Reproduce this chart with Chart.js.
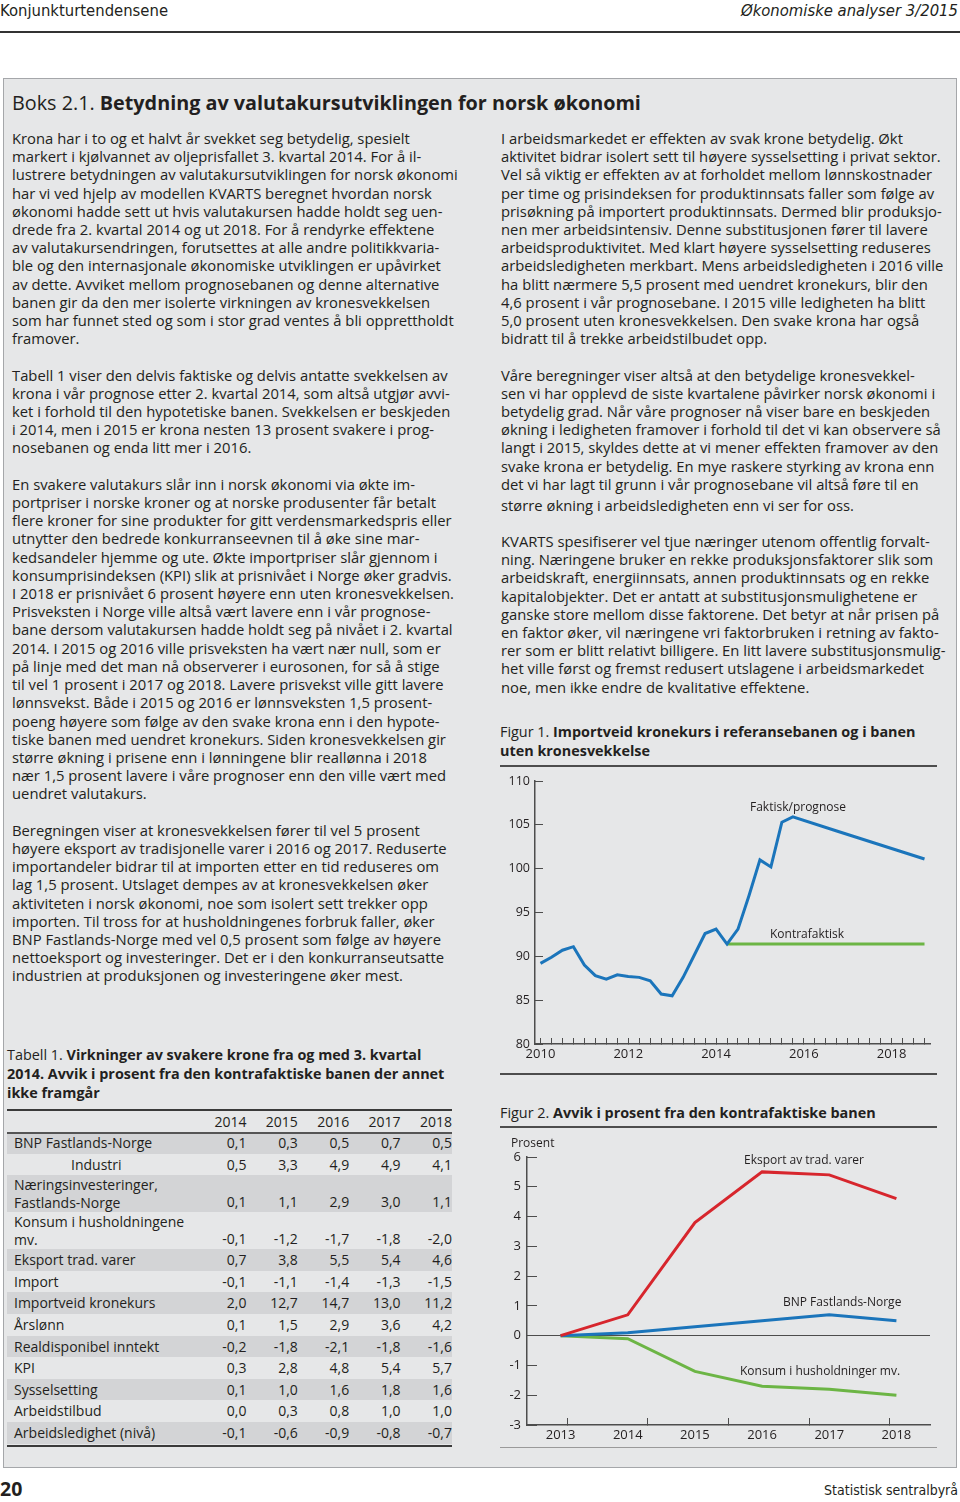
<!DOCTYPE html>
<html lang="no">
<head>
<meta charset="utf-8">
<title>Boks 2.1 Betydning av valutakursutviklingen for norsk økonomi</title>
<script src="https://cdn.jsdelivr.net/npm/chart.js@4.4.1/dist/chart.umd.min.js"></script>
<style>
  html, body { margin: 0; padding: 0; }
  body {
    width: 960px; height: 1502px; position: relative; overflow: hidden;
    background: #fff; color: #231f20; font-family: "Open Sans", "Noto Sans", sans-serif;
  }
  .abs { position: absolute; }
  .txt { font-size: 14.8px; line-height: 18.2px; white-space: nowrap; }
  .cond { font-family: "Liberation Sans Narrow", "DejaVu Sans Condensed", sans-serif; }
  .figtitle { font-size: 14.4px; line-height: 18.5px; white-space: nowrap; }
  .figtitle b { font-weight: 700; }
  .rule { position: absolute; background: #4d4d4d; }
  .lbl { position: absolute; font-size: 12px; line-height: 16px; white-space: nowrap; }
  table.t1 { position: absolute; left: 7px; top: 1111px; width: 445px; border-collapse: collapse;
    font-size: 14px; table-layout: fixed; }
  table.t1 td { padding: 0; white-space: nowrap; line-height: 17.5px; }
  table.t1 td.n { text-align: right; vertical-align: bottom; padding-bottom: 2px; }
  table.t1 td.l { padding-left: 7px; }
  table.t1 tr.s td { background: #d3d4d6; }
  table.t1 tr { height: 21.6px; }
  table.t1 tr.two { height: 37px; }
  table.t1 tr.hd { height: 21px; }
  table.t1 tr.hd td { vertical-align: middle; padding-bottom: 0; }
</style>
</head>
<body>

<!-- header -->
<div class="abs cond" style="left:0; top:1px; font-size:16.5px; line-height:20px;">Konjunkturtendensene</div>
<div class="abs cond" style="right:2px; top:1px; font-size:16.5px; line-height:20px; font-style:italic;">Økonomiske analyser 3/2015</div>
<div class="rule" style="left:0; top:31px; width:960px; height:2px; background:#333;"></div>

<!-- box -->
<div class="abs" style="left:3px; top:78px; width:952px; height:1388px; background:#e6e7e8; border:1px solid #a5a7aa;"></div>

<div class="abs" style="left:12px; top:90px; font-size:19.8px; line-height:26px; white-space:nowrap;">Boks 2.1.&nbsp;<b>Betydning av valutakursutviklingen for norsk økonomi</b></div>

<!-- left column text -->
<div class="abs txt" style="left:12px; top:129px;">
Krona har i to og et halvt år svekket seg betydelig, spesielt<br>
markert i kjølvannet av oljeprisfallet 3. kvartal 2014. For å il-<br>
lustrere betydningen av valutakursutviklingen for norsk økonomi<br>
har vi ved hjelp av modellen KVARTS beregnet hvordan norsk<br>
økonomi hadde sett ut hvis valutakursen hadde holdt seg uen-<br>
drede fra 2. kvartal 2014 og ut 2018. For å rendyrke effektene<br>
av valutakursendringen, forutsettes at alle andre politikkvaria-<br>
ble og den internasjonale økonomiske utviklingen er upåvirket<br>
av dette. Avviket mellom prognosebanen og denne alternative<br>
banen gir da den mer isolerte virkningen av kronesvekkelsen<br>
som har funnet sted og som i stor grad ventes å bli opprettholdt<br>
framover.<br>
<br>
Tabell 1 viser den delvis faktiske og delvis antatte svekkelsen av<br>
krona i vår prognose etter 2. kvartal 2014, som altså utgjør avvi-<br>
ket i forhold til den hypotetiske banen. Svekkelsen er beskjeden<br>
i 2014, men i 2015 er krona nesten 13 prosent svakere i prog-<br>
nosebanen og enda litt mer i 2016.<br>
<br>
En svakere valutakurs slår inn i norsk økonomi via økte im-<br>
portpriser i norske kroner og at norske produsenter får betalt<br>
flere kroner for sine produkter for gitt verdensmarkedspris eller<br>
utnytter den bedrede konkurranseevnen til å øke sine mar-<br>
kedsandeler hjemme og ute. Økte importpriser slår gjennom i<br>
konsumprisindeksen (KPI) slik at prisnivået i Norge øker gradvis.<br>
I 2018 er prisnivået 6 prosent høyere enn uten kronesvekkelsen.<br>
Prisveksten i Norge ville altså vært lavere enn i vår prognose-<br>
bane dersom valutakursen hadde holdt seg på nivået i 2. kvartal<br>
2014. I 2015 og 2016 ville prisveksten ha vært nær null, som er<br>
på linje med det man nå observerer i eurosonen, for så å stige<br>
til vel 1 prosent i 2017 og 2018. Lavere prisvekst ville gitt lavere<br>
lønnsvekst. Både i 2015 og 2016 er lønnsveksten 1,5 prosent-<br>
poeng høyere som følge av den svake krona enn i den hypote-<br>
tiske banen med uendret kronekurs. Siden kronesvekkelsen gir<br>
større økning i prisene enn i lønningene blir reallønna i 2018<br>
nær 1,5 prosent lavere i våre prognoser enn den ville vært med<br>
uendret valutakurs.<br>
<br>
Beregningen viser at kronesvekkelsen fører til vel 5 prosent<br>
høyere eksport av tradisjonelle varer i 2016 og 2017. Reduserte<br>
importandeler bidrar til at importen etter en tid reduseres om<br>
lag 1,5 prosent. Utslaget dempes av at kronesvekkelsen øker<br>
aktiviteten i norsk økonomi, noe som isolert sett trekker opp<br>
importen. Til tross for at husholdningenes forbruk faller, øker<br>
BNP Fastlands-Norge med vel 0,5 prosent som følge av høyere<br>
nettoeksport og investeringer. Det er i den konkurranseutsatte<br>
industrien at produksjonen og investeringene øker mest.
</div>

<!-- right column text -->
<div class="abs txt" style="left:501px; top:129px;">
I arbeidsmarkedet er effekten av svak krone betydelig. Økt<br>
aktivitet bidrar isolert sett til høyere sysselsetting i privat sektor.<br>
Vel så viktig er effekten av at forholdet mellom lønnskostnader<br>
per time og prisindeksen for produktinnsats faller som følge av<br>
prisøkning på importert produktinnsats. Dermed blir produksjo-<br>
nen mer arbeidsintensiv. Denne substitusjonen fører til lavere<br>
arbeidsproduktivitet. Med klart høyere sysselsetting reduseres<br>
arbeidsledigheten merkbart. Mens arbeidsledigheten i 2016 ville<br>
ha blitt nærmere 5,5 prosent med uendret kronekurs, blir den<br>
4,6 prosent i vår prognosebane. I 2015 ville ledigheten ha blitt<br>
5,0 prosent uten kronesvekkelsen. Den svake krona har også<br>
bidratt til å trekke arbeidstilbudet opp.<br>
<br>
Våre beregninger viser altså at den betydelige kronesvekkel-<br>
sen vi har opplevd de siste kvartalene påvirker norsk økonomi i<br>
betydelig grad. Når våre prognoser nå viser bare en beskjeden<br>
økning i ledigheten framover i forhold til det vi kan observere så<br>
langt i 2015, skyldes dette at vi mener effekten framover av den<br>
svake krona er betydelig. En mye raskere styrking av krona enn<br>
det vi har lagt til grunn i vår prognosebane vil altså føre til en<br>
<span style="position:relative; top:3px;">større økning i arbeidsledigheten enn vi ser for oss.</span>
</div>
<div class="abs txt" style="left:501px; top:532px;">
KVARTS spesifiserer vel tjue næringer utenom offentlig forvalt-<br>
ning. Næringene bruker en rekke produksjonsfaktorer slik som<br>
arbeidskraft, energiinnsats, annen produktinnsats og en rekke<br>
kapitalobjekter. Det er antatt at substitusjonsmulighetene er<br>
ganske store mellom disse faktorene. Det betyr at når prisen på<br>
en faktor øker, vil næringene vri faktorbruken i retning av fakto-<br>
rer som er blitt relativt billigere. En litt lavere substitusjonsmulig-<br>
het ville først og fremst redusert utslagene i arbeidsmarkedet<br>
noe, men ikke endre de kvalitative effektene.
</div>

<!-- Figur 1 -->
<div class="abs figtitle" style="left:500px; top:723px;">Figur 1. <b>Importveid kronekurs i referansebanen og i banen<br>uten kronesvekkelse</b></div>
<div class="rule" style="left:500px; top:765px; width:437px; height:2px;"></div>
<canvas id="fig1" class="abs" style="left:500px; top:770px;" width="440" height="295"></canvas>
<div class="lbl" style="left:750px; top:799px;">Faktisk/prognose</div>
<div class="lbl" style="left:770px; top:926px;">Kontrafaktisk</div>
<div class="rule" style="left:500px; top:1073px; width:437px; height:2px;"></div>

<!-- Figur 2 -->
<div class="abs figtitle" style="left:500px; top:1104px;">Figur 2. <b>Avvik i prosent fra den kontrafaktiske banen</b></div>
<div class="rule" style="left:500px; top:1126px; width:437px; height:2px;"></div>
<canvas id="fig2" class="abs" style="left:500px; top:1135px;" width="440" height="310"></canvas>
<div class="lbl" style="left:511px; top:1135px;">Prosent</div>
<div class="lbl" style="left:744px; top:1152px;">Eksport av trad. varer</div>
<div class="lbl" style="left:783px; top:1294px;">BNP Fastlands-Norge</div>
<div class="lbl" style="left:740px; top:1363px;">Konsum i husholdninger mv.</div>
<div class="rule" style="left:500px; top:1447px; width:437px; height:1px; background:#9a9a9a;"></div>

<!-- Tabell 1 -->
<div class="abs figtitle" style="left:7px; top:1045px; line-height:19px;">Tabell 1. <b>Virkninger av svakere krone fra og med 3. kvartal<br>2014. Avvik i prosent fra den kontrafaktiske banen der annet<br>ikke framgår</b></div>
<div class="rule" style="left:7px; top:1109px; width:445px; height:2px; background:#3a3a3a;"></div>
<table class="t1">
  <colgroup><col style="width:188px"><col style="width:51.4px"><col style="width:51.4px"><col style="width:51.4px"><col style="width:51.4px"><col style="width:51.4px"></colgroup>
  <tr class="hd"><td></td><td class="n">2014</td><td class="n">2015</td><td class="n">2016</td><td class="n">2017</td><td class="n">2018</td></tr>
  <tr class="s"><td class="l">BNP Fastlands-Norge</td><td class="n">0,1</td><td class="n">0,3</td><td class="n">0,5</td><td class="n">0,7</td><td class="n">0,5</td></tr>
  <tr><td class="l" style="padding-left:64px;">Industri</td><td class="n">0,5</td><td class="n">3,3</td><td class="n">4,9</td><td class="n">4,9</td><td class="n">4,1</td></tr>
  <tr class="s two"><td class="l">Næringsinvesteringer,<br>Fastlands-Norge</td><td class="n">0,1</td><td class="n">1,1</td><td class="n">2,9</td><td class="n">3,0</td><td class="n">1,1</td></tr>
  <tr class="two"><td class="l">Konsum i husholdningene<br>mv.</td><td class="n">-0,1</td><td class="n">-1,2</td><td class="n">-1,7</td><td class="n">-1,8</td><td class="n">-2,0</td></tr>
  <tr class="s"><td class="l">Eksport trad. varer</td><td class="n">0,7</td><td class="n">3,8</td><td class="n">5,5</td><td class="n">5,4</td><td class="n">4,6</td></tr>
  <tr><td class="l">Import</td><td class="n">-0,1</td><td class="n">-1,1</td><td class="n">-1,4</td><td class="n">-1,3</td><td class="n">-1,5</td></tr>
  <tr class="s"><td class="l">Importveid kronekurs</td><td class="n">2,0</td><td class="n">12,7</td><td class="n">14,7</td><td class="n">13,0</td><td class="n">11,2</td></tr>
  <tr><td class="l">Årslønn</td><td class="n">0,1</td><td class="n">1,5</td><td class="n">2,9</td><td class="n">3,6</td><td class="n">4,2</td></tr>
  <tr class="s"><td class="l">Realdisponibel inntekt</td><td class="n">-0,2</td><td class="n">-1,8</td><td class="n">-2,1</td><td class="n">-1,8</td><td class="n">-1,6</td></tr>
  <tr><td class="l">KPI</td><td class="n">0,3</td><td class="n">2,8</td><td class="n">4,8</td><td class="n">5,4</td><td class="n">5,7</td></tr>
  <tr class="s"><td class="l">Sysselsetting</td><td class="n">0,1</td><td class="n">1,0</td><td class="n">1,6</td><td class="n">1,8</td><td class="n">1,6</td></tr>
  <tr><td class="l">Arbeidstilbud</td><td class="n">0,0</td><td class="n">0,3</td><td class="n">0,8</td><td class="n">1,0</td><td class="n">1,0</td></tr>
  <tr class="s"><td class="l">Arbeidsledighet (nivå)</td><td class="n">-0,1</td><td class="n">-0,6</td><td class="n">-0,9</td><td class="n">-0,8</td><td class="n">-0,7</td></tr>
</table>
<div class="rule" style="left:7px; top:1132px; width:445px; height:1.5px; background:#555;"></div>
<div class="rule" style="left:7px; top:1445px; width:445px; height:2px; background:#3a3a3a;"></div>

<!-- footer -->
<div class="abs" style="left:0; top:1477px; font-size:19.5px; line-height:24px; font-weight:700;">20</div>
<div class="abs cond" style="right:2px; top:1481px; font-size:14px; line-height:18px;">Statistisk sentralbyrå</div>

<script>
// Figur 1: importveid kronekurs, kvartalstall
const fig1Quarters = [
  '2010K1', '2010K2', '2010K3', '2010K4', '2011K1', '2011K2', '2011K3', '2011K4',
  '2012K1', '2012K2', '2012K3', '2012K4', '2013K1', '2013K2', '2013K3', '2013K4',
  '2014K1', '2014K2', '2014K3', '2014K4', '2015K1', '2015K2', '2015K3', '2015K4',
  '2016K1', '2016K2', '2016K3', '2016K4', '2017K1', '2017K2', '2017K3', '2017K4',
  '2018K1', '2018K2', '2018K3', '2018K4'
];
const fig1Faktisk = [
  89.2, 89.9, 90.7, 91.1, 89.0, 87.8, 87.4, 87.9,
  87.7, 87.6, 87.2, 85.7, 85.5, 87.6, 90.1, 92.6,
  93.1, 91.4, 93.1, 96.9, 101.0, 100.2, 105.3, 105.9,
  null, null, null, 104.3, null, null, null, 102.7,
  null, null, null, 101.1
];
const fig1Kontrafaktisk = [
  null, null, null, null, null, null, null, null,
  null, null, null, null, null, null, null, null,
  null, 91.4, 91.4, 91.4, 91.4, 91.4, 91.4, 91.4,
  91.4, 91.4, 91.4, 91.4, 91.4, 91.4, 91.4, 91.4,
  91.4, 91.4, 91.4, 91.4
];
const fig1YTicks = [80, 85, 90, 95, 100, 105, 110];

// Figur 2: avvik i prosent fra kontrafaktisk bane
const fig2Years = [2013, 2014, 2015, 2016, 2017, 2018];
const fig2Eksport = [0, 0.7, 3.8, 5.5, 5.4, 4.6];
const fig2Bnp = [0, 0.1, 0.3, 0.5, 0.7, 0.5];
const fig2Konsum = [0, -0.1, -1.2, -1.7, -1.8, -2.0];

const axisColor = '#4d4d4d';
const textColor = '#231f20';
const blue = '#1b75bb';
const green = '#6cb545';
const red = '#d7262d';

Chart.defaults.font.family = '"Open Sans", "Noto Sans", sans-serif';
Chart.defaults.color = textColor;

// fixed axis sizes, so the plot area sits where the original has it
function fixSize(w, h) {
  return (s) => {
    if (w !== null) s.width = w;
    if (h !== null) s.height = h;
    s.paddingTop = 0; s.paddingBottom = 0; s.paddingLeft = 0; s.paddingRight = 0;
  };
}

new Chart(document.getElementById('fig1'), {
  type: 'line',
  data: {
    labels: fig1Quarters,
    datasets: [
      { label: 'Faktisk/prognose', data: fig1Faktisk, borderColor: blue, borderWidth: 3,
        pointRadius: 0, spanGaps: true, tension: 0 },
      { label: 'Kontrafaktisk', data: fig1Kontrafaktisk, borderColor: green, borderWidth: 3,
        pointRadius: 0, spanGaps: true, tension: 0 }
    ]
  },
  options: {
    responsive: false,
    animation: false,
    layout: { padding: { top: 11, right: 10, left: 0, bottom: 0 } },
    plugins: { legend: { display: false }, tooltip: { enabled: false } },
    scales: {
      x: {
        type: 'category',
        offset: true,
        border: { display: true, color: axisColor, width: 1.5 },
        grid: { drawOnChartArea: false, offset: false, tickLength: -6, tickColor: axisColor, tickWidth: 1 },
        ticks: {
          autoSkip: false, maxRotation: 0, padding: 8,
          font: { size: 13 },
          callback: (v, i) => (i % 8 === 0 ? fig1Quarters[i].slice(0, 4) : '')
        },
        afterFit: fixSize(null, 21)
      },
      y: {
        min: 80, max: 110,
        afterBuildTicks: (s) => { s.ticks = fig1YTicks.map(v => ({ value: v })); },
        border: { display: true, color: axisColor, width: 1.5 },
        grid: { drawOnChartArea: false, tickLength: -8, tickColor: axisColor, tickWidth: 1 },
        ticks: { padding: 13, font: { size: 12.5 } },
        afterFit: fixSize(35, null)
      }
    }
  }
});

const fig2XMin = 2012.5, fig2XMax = 2018.5;

new Chart(document.getElementById('fig2'), {
  type: 'line',
  data: {
    datasets: [
      { label: 'Eksport av trad. varer', data: fig2Years.map((x, i) => ({ x, y: fig2Eksport[i] })),
        borderColor: red, borderWidth: 3, pointRadius: 0, tension: 0 },
      { label: 'BNP Fastlands-Norge', data: fig2Years.map((x, i) => ({ x, y: fig2Bnp[i] })),
        borderColor: blue, borderWidth: 3, pointRadius: 0, tension: 0 },
      { label: 'Konsum i husholdninger mv.', data: fig2Years.map((x, i) => ({ x, y: fig2Konsum[i] })),
        borderColor: green, borderWidth: 3, pointRadius: 0, tension: 0 }
    ]
  },
  options: {
    responsive: false,
    animation: false,
    layout: { padding: { top: 22, right: 10, left: 0, bottom: 0 } },
    plugins: { legend: { display: false }, tooltip: { enabled: false } },
    scales: {
      x: {
        type: 'linear',
        min: fig2XMin, max: fig2XMax,
        afterBuildTicks: (s) => {
          // year labels at the data, tick marks at the middle of five equal parts of the axis
          const marks = [0, 1, 2, 3, 4].map(k => fig2XMin + (fig2XMax - fig2XMin) * (k + 0.5) / 5);
          s.ticks = fig2Years.map(v => ({ value: v })).concat(marks.map(v => ({ value: v })))
            .sort((a, b) => a.value - b.value);
        },
        border: { display: true, color: axisColor, width: 1.5 },
        grid: {
          drawOnChartArea: false, tickLength: -7, tickWidth: 1,
          tickColor: (c) => (c.tick && Number.isInteger(c.tick.value) ? 'rgba(0,0,0,0)' : axisColor)
        },
        ticks: {
          autoSkip: false, maxRotation: 0, padding: 9, font: { size: 13 },
          callback: (v) => (Number.isInteger(v) ? String(v) : '')
        },
        afterFit: fixSize(null, 20)
      },
      y: {
        min: -3, max: 6,
        ticks: { stepSize: 1, padding: 16, font: { size: 13 } },
        border: { display: true, color: axisColor, width: 1.5 },
        grid: {
          drawOnChartArea: true, tickLength: -10, tickWidth: 1, tickColor: axisColor, lineWidth: 1,
          color: (c) => (c.tick && c.tick.value === 0 ? axisColor : 'rgba(0,0,0,0)')
        },
        afterFit: fixSize(27, null)
      }
    }
  }
});
</script>
</body>
</html>
